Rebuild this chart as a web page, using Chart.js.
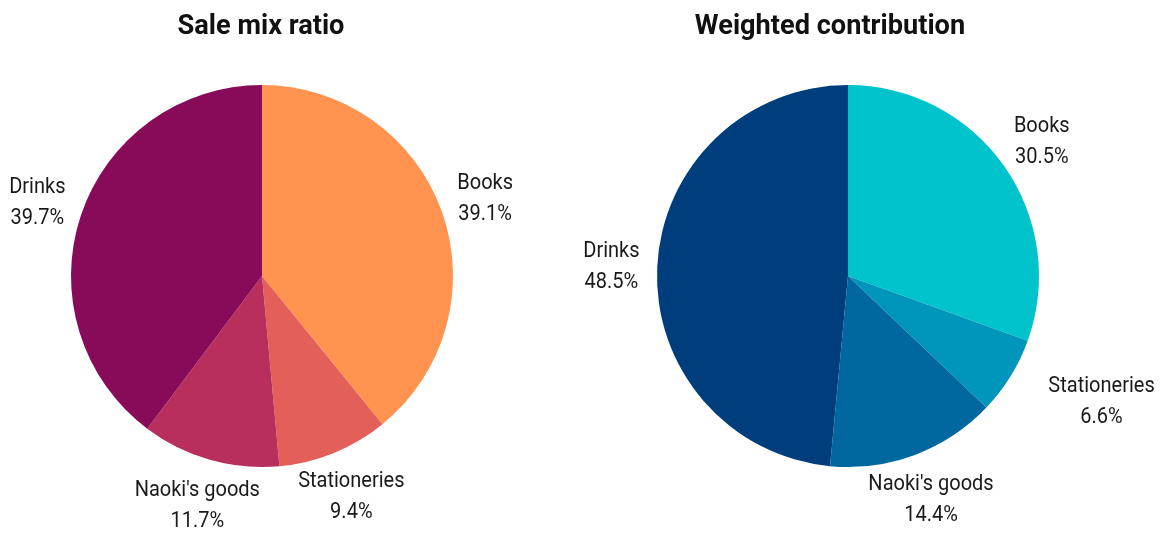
<!DOCTYPE html>
<html>
<head>
<meta charset="utf-8">
<script src="https://cdn.jsdelivr.net/npm/chart.js@4/dist/chart.umd.min.js"></script>
<style>
html,body{margin:0;padding:0;background:#fff;}
#wrap{position:relative;width:1168px;height:536px;}
.c{position:absolute;top:0;width:584px;height:536px;}
</style>
</head>
<body>
<div id="wrap">
  <div class="c" style="left:0"><canvas id="c1"></canvas></div>
  <div class="c" style="left:584px"><canvas id="c2"></canvas></div>
</div>
<script>
const categories = ["Books", "Stationeries", "Naoki's goods", "Drinks"];
const saleMix = [39.1, 9.4, 11.7, 39.7];
const weighted = [30.5, 6.6, 14.4, 48.5];
const saleMixColors = ["#FF934F", "#E35F59", "#B82E5C", "#870B59"];
const weightedColors = ["#00C3CC", "#0096BB", "#00689F", "#003D7D"];
const titles = ["Sale mix ratio", "Weighted contribution"];

function drawText(ctx, text, x, y, font, sx) {
  ctx.save();
  ctx.font = font;
  ctx.translate(x, y);
  ctx.scale(sx, 1);
  ctx.fillText(text, 0, 0);
  ctx.restore();
}

const labelPlugin = {
  id: 'labelPlugin',
  afterDraw(chart, args, opts) {
    const ctx = chart.ctx;
    ctx.save();
    ctx.fillStyle = '#111';
    ctx.textAlign = 'center';
    ctx.textBaseline = 'alphabetic';
    drawText(ctx, opts.title, opts.titleX, 34, "bold 28px Roboto", 0.97);
    ctx.fillStyle = '#1a1a1a';
    const meta = chart.getDatasetMeta(0);
    const ds = chart.data.datasets[0];
    meta.data.forEach((arc, i) => {
      const p = arc.getProps(['x','y','startAngle','endAngle','outerRadius'], true);
      const mid = (p.startAngle + p.endAngle) / 2;
      const r = p.outerRadius * 1.24;
      const cx = p.x + r * Math.cos(mid) + (opts.shiftX[i] || 0);
      const cy = p.y + r * Math.sin(mid);
      drawText(ctx, chart.data.labels[i], cx, cy - 8, "22px Roboto", 0.91);
      drawText(ctx, ds.data[i].toFixed(1) + '%', cx, cy + 23, "22px Roboto", 0.91);
    });
    ctx.restore();
  }
};

function makePie(id, values, colors, title, titleX, padL, padR, shiftX) {
  new Chart(document.getElementById(id), {
    type: 'pie',
    data: {
      labels: categories,
      datasets: [{ data: values, backgroundColor: colors, borderWidth: 0 }]
    },
    options: {
      responsive: true,
      maintainAspectRatio: false,
      animation: false,
      layout: { padding: { left: padL, right: padR, top: 85, bottom: 69 } },
      plugins: {
        legend: { display: false },
        tooltip: { enabled: false },
        title: { display: false },
        labelPlugin: { title: title, titleX: titleX, shiftX: shiftX }
      }
    },
    plugins: [labelPlugin]
  });
}

makePie('c1', saleMix, saleMixColors, titles[0], 261, 71, 131, [0, 0, 0, 0]);
makePie('c2', weighted, weightedColors, titles[1], 246, 73, 129, [0, 52, 0, 0]);
</script>
</body>
</html>
